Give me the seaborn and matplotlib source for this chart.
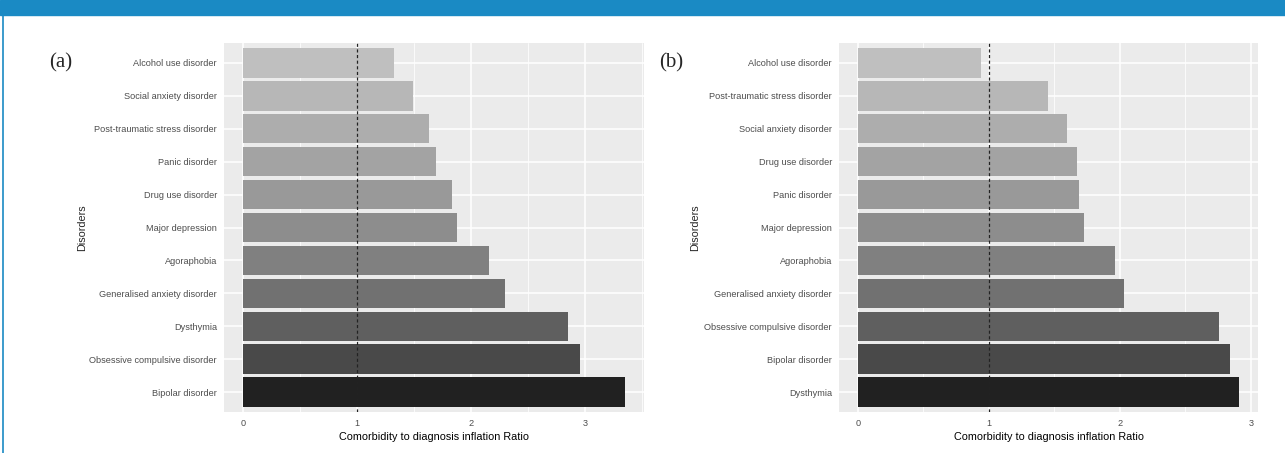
import numpy as np
import pandas as pd
import matplotlib
matplotlib.use("Agg")
import matplotlib.pyplot as plt
import seaborn as sns

# panel (a)
disorders_a = ["Alcohol use disorder", "Social anxiety disorder", "Post-traumatic stress disorder",
               "Panic disorder", "Drug use disorder", "Major depression", "Agoraphobia",
               "Generalised anxiety disorder", "Dysthymia", "Obsessive compulsive disorder",
               "Bipolar disorder"]
ratio_a = [1.32, 1.49, 1.63, 1.69, 1.83, 1.88, 2.16, 2.30, 2.85, 2.96, 3.35]

# panel (b)
disorders_b = ["Alcohol use disorder", "Post-traumatic stress disorder", "Social anxiety disorder",
               "Drug use disorder", "Panic disorder", "Major depression", "Agoraphobia",
               "Generalised anxiety disorder", "Obsessive compulsive disorder", "Bipolar disorder",
               "Dysthymia"]
ratio_b = [0.94, 1.45, 1.60, 1.67, 1.69, 1.73, 1.96, 2.03, 2.76, 2.84, 2.91]

x_ticks = [0, 1, 2, 3]
panel_tags = ["(a)", "(b)"]

sns.set_style("darkgrid", {"axes.facecolor": "#EBEBEB", "grid.color": "white"})
plt.rcParams["font.family"] = ["Liberation Sans", "DejaVu Sans"]


def grey_ramp(n, start=0.75, end=0.13, gamma=2.2):
    lv = np.linspace(start ** gamma, end ** gamma, n) ** (1 / gamma)
    return [(v, v, v) for v in lv]


fig = plt.figure(figsize=(12.85, 4.53), dpi=100)

# blue header strip and left border like the source page
fig.patches.append(plt.Rectangle((0, 1 - 15 / 453), 1, 15 / 453, transform=fig.transFigure,
                                 color="#1a8ac4", zorder=0))
fig.add_artist(plt.Line2D([3 / 1285, 3 / 1285], [0, 1 - 15 / 453], transform=fig.transFigure,
                          color="#1a8ac4", lw=1.2))

boxes = [[224 / 1285, 41 / 453, 420 / 1285, 369 / 453],
         [839 / 1285, 41 / 453, 419 / 1285, 369 / 453]]
tag_pos = [(49 / 1285, 1 - 63 / 453), (659 / 1285, 1 - 63 / 453)]
ylab_x = [82, 695]

for i, (cats, vals) in enumerate([(disorders_a, ratio_a), (disorders_b, ratio_b)]):
    ax = fig.add_axes(boxes[i])
    df = pd.DataFrame({"Disorders": cats, "Ratio": vals})
    sns.barplot(data=df, x="Ratio", y="Disorders", hue="Disorders", palette=grey_ramp(len(cats)),
                legend=False, width=0.9, saturation=1, linewidth=0, ax=ax, zorder=2)
    n = len(cats)
    m = max(vals)
    ax.set_xlim(-0.05 * m, 1.05 * m)
    ax.set_ylim(n - 1 + 0.6, -0.6)
    ax.axvline(1, color="#222222", lw=0.9, ls=(0, (2.5, 2)), zorder=3)
    ax.set_xticks(x_ticks)
    ax.set_xticks(np.arange(0.5, 1.05 * m, 1.0), minor=True)
    ax.grid(True, which="major", color="white", lw=1.1, zorder=0)
    ax.grid(True, which="minor", axis="x", color="white", lw=0.55, zorder=0)
    ax.set_axisbelow(True)
    ax.tick_params(axis="both", which="major", length=3, width=0.8, color="#333333",
                   labelsize=6.6, labelcolor="#4d4d4d", pad=2)
    ax.tick_params(axis="x", which="minor", length=0)
    for s in ax.spines.values():
        s.set_visible(False)
    ax.set_xlabel("Comorbidity to diagnosis inflation Ratio", fontsize=7.8, color="black", labelpad=3)
    ax.set_ylabel("")
    fig.text(ylab_x[i] / 1285, 0.5 - 1 / 453, "Disorders", rotation=90,
             ha="center", va="center", fontsize=7.8)
    fig.text(tag_pos[i][0], tag_pos[i][1], panel_tags[i], family="Liberation Serif",
             fontsize=15, ha="left", va="center")

fig.savefig("out.png", dpi=100)
